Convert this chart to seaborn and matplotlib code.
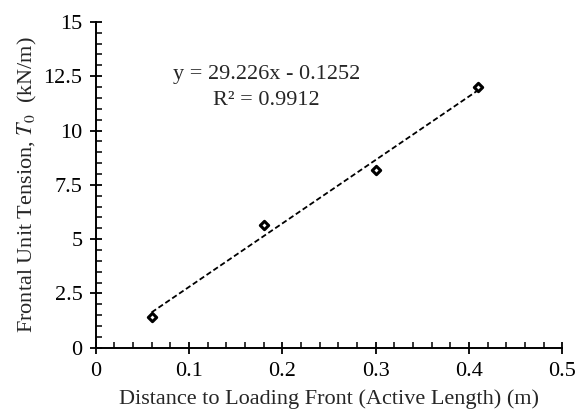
import numpy as np
import pandas as pd
import matplotlib
matplotlib.use("Agg")
import matplotlib.pyplot as plt
from matplotlib.ticker import MultipleLocator
import seaborn as sns

# Measured frontal tension vs. distance to loading front
distance_m = [0.06, 0.18, 0.30, 0.41]
tension_kn_m = [1.4, 5.65, 8.2, 12.0]

# Linear trendline parameters
slope = 29.226
intercept = -0.1252
r_squared = 0.9912

x_ticks = [0, 0.1, 0.2, 0.3, 0.4, 0.5]
x_tick_labels = ["0", "0.1", "0.2", "0.3", "0.4", "0.5"]
y_ticks = [0, 2.5, 5, 7.5, 10, 12.5, 15]
y_tick_labels = ["0", "2.5", "5", "7.5", "10", "12.5", "15"]

sns.set_style("ticks")
plt.rcParams["font.family"] = ["Liberation Serif", "DejaVu Serif"]
plt.rcParams["mathtext.fontset"] = "stix"

df = pd.DataFrame({"x": distance_m, "y": tension_kn_m})
x_fit = np.array([min(distance_m), max(distance_m)])
fit = pd.DataFrame({"x": x_fit, "y": slope * x_fit + intercept})

fig = plt.figure(figsize=(5.76, 4.13), dpi=100)
ax = fig.add_axes([0.166, 0.158, 0.810, 0.789])

sns.lineplot(data=fit, x="x", y="y", ax=ax, color="black", linewidth=1.3,
             linestyle=(0, (3, 1.6)))
sns.scatterplot(data=df, x="x", y="y", ax=ax, marker="D", s=18,
                facecolor="white", edgecolor="black", linewidth=2.2, zorder=3)

ax.set_xlim(0, 0.5)
ax.set_ylim(0, 15)
ax.set_xticks(x_ticks)
ax.set_xticklabels(x_tick_labels)
ax.set_yticks(y_ticks)
ax.set_yticklabels(y_tick_labels)
ax.xaxis.set_minor_locator(MultipleLocator(0.02))
ax.yaxis.set_minor_locator(MultipleLocator(0.5))

ax.tick_params(which="major", direction="inout", length=9, width=1.3,
               labelsize=16, color="black", labelcolor="black")
ax.tick_params(axis="x", which="major", pad=6)
ax.tick_params(axis="y", which="major", pad=5)
ax.tick_params(which="minor", direction="in", length=4.5, width=1.1,
               color="black")

for side in ("top", "right"):
    ax.spines[side].set_visible(False)
for side in ("left", "bottom"):
    ax.spines[side].set_linewidth(1.4)
    ax.spines[side].set_color("black")

ax.set_xlabel("Distance to Loading Front (Active Length) (m)", fontsize=16,
              labelpad=6)
ax.set_ylabel("Frontal Unit Tension, $T_0$  (kN/m)", fontsize=16, labelpad=3)

ax.text(0.183, 12.6, f"y = {slope}x - {abs(intercept)}", ha="center",
        va="center", fontsize=16)
ax.text(0.183, 11.4, f"R\u00b2 = {r_squared}", ha="center", va="center",
        fontsize=16)

fig.savefig("out.png", dpi=100)
